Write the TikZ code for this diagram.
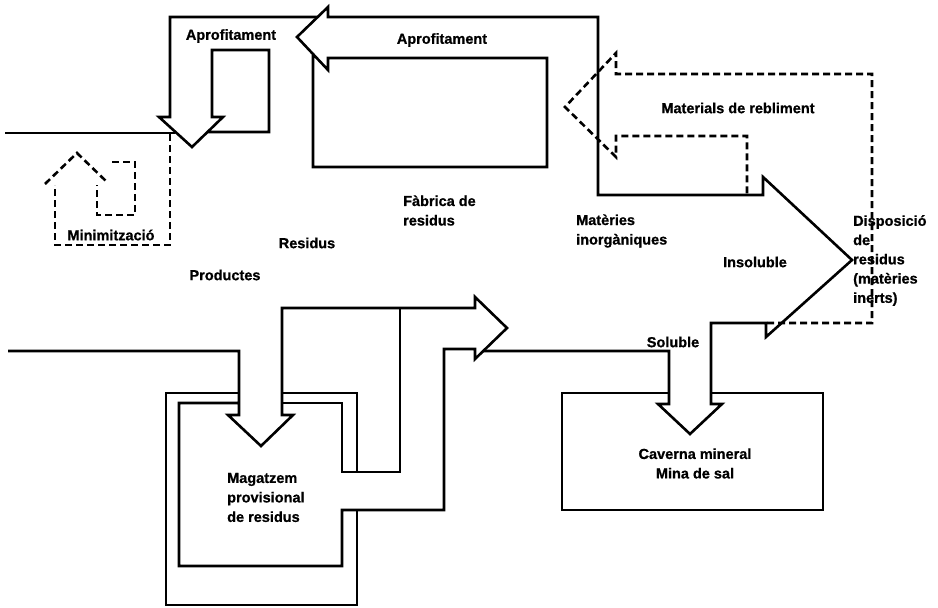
\documentclass[tikz,border=0pt]{standalone}
\usepackage{fontspec}
\setmainfont{Liberation Sans}[BoldFeatures={FakeBold=0.8}]
\begin{document}
\begin{tikzpicture}[x=1pt,y=-1pt,
  band/.style={draw=black,line width=2.6pt,line join=miter,line cap=butt},
  dband/.style={band,dash pattern=on 7pt off 4pt},
  lbl/.style={inner sep=0pt,font=\fontsize{14.5}{19.5}\selectfont\bfseries},
]
\useasboundingbox[fill=white] (0,0) rectangle (938,608);

% ---------- upper-left input line and down-arrow "Aprofitament"
\draw[band] (5,133) -- (175,133);
\draw[band] (318,17) -- (170,17) -- (170,117) -- (159,117) -- (192,147) -- (223,117)
  -- (212,117) -- (212,50) -- (269,50) -- (269,132) -- (207.5,132);

% ---------- Minimitzacio (dashed)
\draw[dband] (170,134) -- (170,245) -- (55,245) -- (55,185);
\draw[dband] (45,184) -- (77,153) -- (108,183);
\draw[dband] (112,162) -- (135,162) -- (135,215) -- (97,215) -- (97,185);

% ---------- main band: Soluble line, Insoluble arrow, Aprofitament left arrow, Fabrica box
\draw[band] (483,351) -- (669,351) -- (669,404) -- (658,404) -- (690,434) -- (722,404)
  -- (711,404) -- (711,323) -- (766,323) -- (766,337) -- (852,260) -- (763,177)
  -- (763,195) -- (598,195) -- (598,17) -- (328,17) -- (328,7) -- (297,37)
  -- (328,70) -- (328,58) -- (547,58) -- (547,167) -- (313,167) -- (313,55);

% ---------- Materials de rebliment (dashed arrow)
\draw[dband] (767,323) -- (872,323) -- (872,74) -- (616,74) -- (616,53) -- (565,107)
  -- (616,157) -- (616,136) -- (747,136) -- (747,194);

% ---------- Caverna mineral box
\draw[band] (669,393) -- (562,393) -- (562,510) -- (823,510) -- (823,393) -- (711,393);

% ---------- lower input line, Magatzem arrows and boxes
\draw[band] (8,351) -- (239,351) -- (239,415) -- (228,415) -- (261,446) -- (293,415)
  -- (282,415) -- (282,308) -- (475,308) -- (475,297) -- (507,328) -- (475,359)
  -- (475,349) -- (444,349) -- (444,510) -- (342,510) -- (342,566) -- (179,566)
  -- (179,403) -- (239,403);
\draw[band] (239,393) -- (166,393) -- (166,605) -- (357,605) -- (357,510);
\draw[band] (282,393) -- (357,393) -- (357,472);
\draw[band] (282,403) -- (342,403) -- (342,472) -- (400,472) -- (400,308);

% ---------- labels
\node[lbl] (aprofA) at (231,36) {Aprofitament};
\node[lbl] (aprofB) at (442,40) {Aprofitament};
\node[lbl] (minim) at (111,235) {Minimització};
\node[lbl] (resid) at (307,243) {Residus};
\node[lbl] (prod) at (225,275) {Productes};
\node[lbl,align=left,anchor=west] (fabr) at (403,210.5) {Fàbrica de\\residus};
\node[lbl,align=left,anchor=west] (inorg) at (576,231) {Matèries\\inorgàniques};
\node[lbl] (rebl) at (738,108) {Materials de rebliment};
\node[lbl] (insol) at (755,262) {Insoluble};
\node[lbl,align=left,anchor=west,font=\fontsize{14.5}{19.25}\selectfont\bfseries] (dispo) at (853,260.5)
  {Disposició\\de\\residus\\(matèries\\inerts)};
\node[lbl] (solub) at (673,342) {Soluble};
\node[lbl,align=center] (cav) at (695,463.5) {Caverna mineral\\Mina de sal};
\node[lbl,align=left,anchor=west] (magat) at (227,497.5) {Magatzem\\provisional\\de residus};
\end{tikzpicture}
\end{document}
